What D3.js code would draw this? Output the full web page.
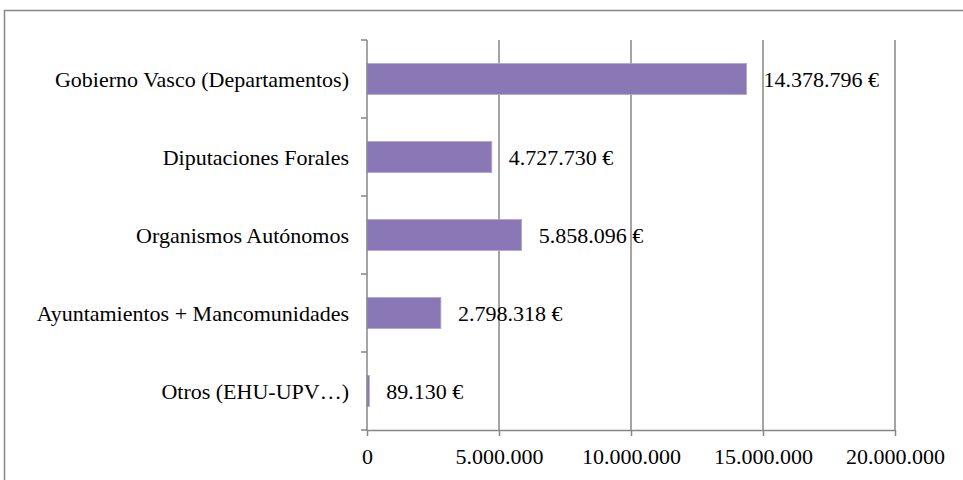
<!DOCTYPE html>
<html>
<head>
<meta charset="utf-8">
<script src="https://cdn.jsdelivr.net/npm/d3@7"></script>
<style>
  body { margin: 0; background: #fff; }
  text { font-family: "Liberation Serif", serif; fill: #000; }
</style>
</head>
<body>
<svg id="chart" width="963" height="480"></svg>
<script>
// Financiación por origen
const categories = ["Gobierno Vasco (Departamentos)", "Diputaciones Forales", "Organismos Autónomos", "Ayuntamientos + Mancomunidades", "Otros (EHU-UPV…)"];
const values = [14378796, 4727730, 5858096, 2798318, 89130];
const xTicks = [0, 5000000, 10000000, 15000000, 20000000];

let svg = d3.select("#chart");
const fs = 22;

const es = d3.formatLocale({decimal: ",", thousands: ".", grouping: [3], currency: ["", "\u00a0€"]});
const fmtTick = es.format(",d");
const fmtVal = es.format("$,d");

// outer frame (right and bottom edges fall outside the picture)
svg.append("rect")
   .attr("x", 4.5).attr("y", 10.5)
   .attr("width", 1000).attr("height", 500)
   .attr("fill", "none")
   .attr("stroke", "#878787")
   .attr("stroke-width", 1.5);

let x = d3.scaleLinear().domain([0, 20000000]).range([367, 895]);
let y = d3.scaleBand().domain(categories).range([40, 430])
          .paddingInner(0.6).paddingOuter(0.3);

// gridlines
svg.append("g").selectAll("line").data(xTicks.slice(1))
   .join("line")
   .attr("x1", d => x(d)).attr("x2", d => x(d))
   .attr("y1", 40).attr("y2", 430)
   .attr("stroke", "#868686")
   .attr("stroke-width", 1.5);

// bars
svg.append("g").selectAll("rect").data(values)
   .join("rect")
   .attr("x", x(0))
   .attr("y", (d, i) => y(categories[i]))
   .attr("width", d => x(d) - x(0))
   .attr("height", y.bandwidth())
   .attr("fill", "#8a77b5")
   .attr("stroke", "#b4a8d4")
   .attr("stroke-width", 0.8);

// bottom axis
let xAxis = svg.append("g")
   .attr("transform", "translate(0,430)")
   .call(d3.axisBottom(x).tickValues(xTicks).tickSize(6).tickSizeOuter(0).tickFormat(fmtTick));
xAxis.select(".domain").attr("stroke", "#868686").attr("stroke-width", 1.5);
xAxis.selectAll(".tick line").attr("stroke", "#868686").attr("stroke-width", 1.5);
xAxis.selectAll(".tick text")
   .attr("y", 18)
   .attr("dy", "0.71em")
   .style("font-size", fs + "px")
   .style("font-family", "Liberation Serif, serif")
   .attr("fill", "#000");

// left axis: line plus ticks at band boundaries
const bounds = d3.range(categories.length + 1).map(i => 40 + i * y.step());
svg.append("line")
   .attr("x1", x(0)).attr("x2", x(0))
   .attr("y1", 40).attr("y2", 430)
   .attr("stroke", "#868686").attr("stroke-width", 1.5);
svg.append("g").selectAll("line").data(bounds)
   .join("line")
   .attr("x1", x(0) - 6).attr("x2", x(0))
   .attr("y1", d => d).attr("y2", d => d)
   .attr("stroke", "#868686").attr("stroke-width", 1.5);

// category labels
svg.append("g").selectAll("text").data(categories)
   .join("text")
   .attr("x", 349)
   .attr("y", d => y(d) + y.bandwidth() / 2)
   .attr("dy", "0.35em")
   .attr("text-anchor", "end")
   .style("font-size", fs + "px")
   .text(d => d);

// value labels
svg.append("g").selectAll("text").data(values)
   .join("text")
   .attr("x", d => x(d) + 17)
   .attr("y", (d, i) => y(categories[i]) + y.bandwidth() / 2)
   .attr("dy", "0.35em")
   .style("font-size", fs + "px")
   .text(d => fmtVal(d));
</script>
</body>
</html>
